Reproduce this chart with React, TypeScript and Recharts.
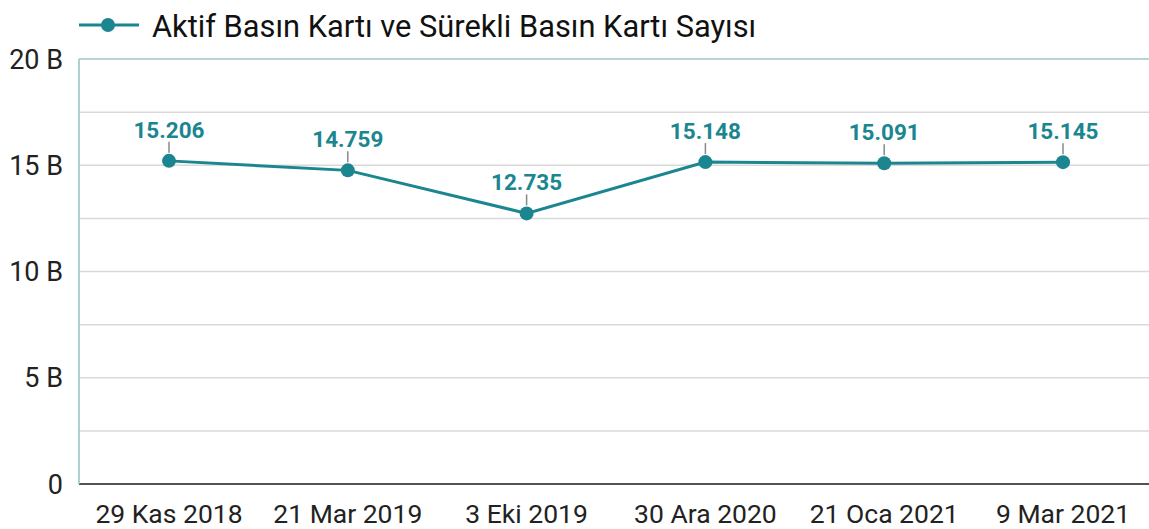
import React from 'react';
import { LineChart, Line, XAxis, YAxis, CartesianGrid, Legend, LabelList, ReferenceLine } from 'recharts';

const categories = ['29 Kas 2018', '21 Mar 2019', '3 Eki 2019', '30 Ara 2020', '21 Oca 2021', '9 Mar 2021'];
const values = [15206, 14759, 12735, 15148, 15091, 15145];
const yTicks = [0, 2500, 5000, 7500, 10000, 12500, 15000, 17500, 20000];
const seriesName = 'Aktif Basın Kartı ve Sürekli Basın Kartı Sayısı';

const data = categories.map((c, i) => ({ name: c, value: values[i] }));

const TEAL = '#1b8690';
const FONT = 'Roboto, sans-serif';

const fmtLabel = (v: number) => v.toLocaleString('de-DE');
const fmtTick = (v: number) => (v % 5000 === 0 ? (v === 0 ? '0' : `${v / 1000} B`) : '');

const LegendContent = () => (
  <svg width={1149} height={59} style={{ display: 'block' }}>
    <line x1={79} y1={25} x2={139} y2={25} stroke={TEAL} strokeWidth={3} />
    <circle cx={108} cy={25} r={7} fill={TEAL} />
    <text x={152} y={26} dominantBaseline="central" fontSize={30.8} fill="#111" fontFamily={FONT}>
      {seriesName}
    </text>
  </svg>
);

const DataLabel = (props: any) => {
  const { x, y, value } = props;
  return (
    <g>
      <line x1={x} y1={y - 8} x2={x} y2={y - 19} stroke="#888" strokeWidth={1.5} />
      <text x={x} y={y - 23} textAnchor="middle" fontSize={22.5} fontWeight={700} fill={TEAL} fontFamily={FONT}>
        {fmtLabel(value)}
      </text>
    </g>
  );
};

export default function App() {
  return (
    <div style={{ position: 'absolute', left: 0, top: 0, fontFamily: FONT }}>
      <LineChart width={1149} height={529} data={data} margin={{ top: 0, right: 0, bottom: 0, left: 0 }}>
        <Legend verticalAlign="top" content={() => <LegendContent />} wrapperStyle={{ top: 0, left: 0, width: 1149, height: 59 }} />
        <CartesianGrid vertical={false} stroke="#d9d9d9" strokeWidth={1.5} />
        <ReferenceLine y={20000} stroke="#a9cfd2" strokeWidth={1.5} />
        <XAxis
          dataKey="name"
          padding={{ left: 90, right: 86 }}
          height={45}
          tickLine={false}
          axisLine={{ stroke: '#222', strokeWidth: 1.5 }}
          tick={{ fontSize: 26.5, fill: '#222', fontFamily: FONT }}
          tickMargin={14}
          interval={0}
        />
        <YAxis
          width={79}
          domain={[0, 20000]}
          ticks={yTicks}
          tickFormatter={fmtTick}
          tickLine={false}
          tickSize={0}
          tickMargin={16}
          axisLine={{ stroke: '#8fc3c7', strokeWidth: 1.5 }}
          tick={{ fontSize: 27, fill: '#222', fontFamily: FONT }}
          interval={0}
        />
        <Line
          dataKey="value"
          name={seriesName}
          stroke={TEAL}
          strokeWidth={3}
          dot={{ r: 7, fill: TEAL, stroke: TEAL, strokeWidth: 0 }}
          activeDot={false}
          isAnimationActive={false}
        >
          <LabelList dataKey="value" content={<DataLabel />} />
        </Line>
      </LineChart>
    </div>
  );
}
